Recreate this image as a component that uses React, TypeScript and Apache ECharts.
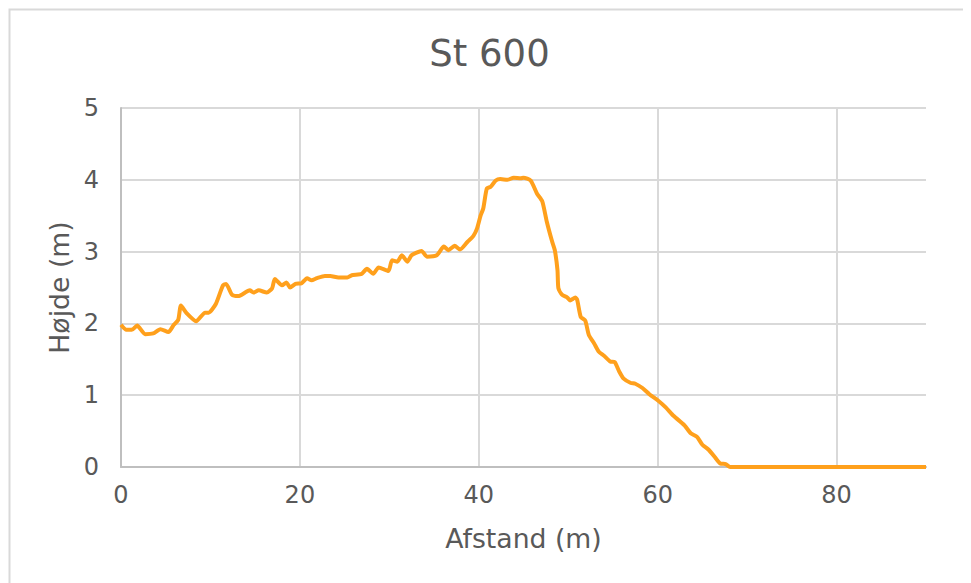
import React, { useEffect, useRef } from "react";
import * as echarts from "echarts";

const titleText = "St 600";
const xAxisName = "Afstand (m)";
const yAxisName = "Højde (m)";

const distances = [
  0, 0.6, 1.2, 1.8, 2.7, 3.6, 4.4, 5.3, 5.9, 6.4, 6.7, 7.35, 8.4, 9.4, 9.8, 10.6,
  11.4, 11.75, 12.4, 13.1, 14.4, 14.8, 15.4, 16.3, 16.9, 17.2, 18.0, 18.5, 18.9,
  19.5, 20.2, 20.8, 21.3, 21.9, 22.8, 23.4, 24.3, 25.3, 25.8, 26.9, 27.5, 28.2,
  28.8, 29.9, 30.3, 30.9, 31.4, 32.0, 32.5, 33.6, 34.2, 35.3, 36.1, 36.6, 37.3,
  37.9, 38.7, 39.4, 39.8, 40.2, 40.5, 40.9, 41.3, 41.9, 42.4, 43.2, 43.9, 44.7,
  45.0, 45.8, 46.5, 47.1, 47.6, 48.2, 48.5, 48.8, 48.9, 49.3, 49.9, 50.2, 50.8,
  51.0, 51.4, 51.9, 52.3, 52.9, 53.4, 54.0, 54.7, 55.2, 55.7, 56.2, 57.0, 57.5,
  58.3, 59.1, 60.1, 60.9, 61.8, 63.0, 63.7, 64.4, 65.0, 65.7, 66.5, 67.0, 67.6,
  68.1, 70, 75, 80, 85, 90,
];

const heights = [
  1.98, 1.91, 1.91, 1.97, 1.85, 1.86, 1.92, 1.88, 1.98, 2.05, 2.25, 2.14, 2.03,
  2.15, 2.15, 2.27, 2.53, 2.55, 2.4, 2.38, 2.46, 2.43, 2.46, 2.43, 2.49, 2.62,
  2.53, 2.57, 2.5, 2.55, 2.56, 2.63, 2.6, 2.63, 2.66, 2.66, 2.64, 2.64, 2.67,
  2.69, 2.76, 2.69, 2.78, 2.73, 2.88, 2.86, 2.95, 2.86, 2.95, 3.01, 2.93, 2.95,
  3.07, 3.02, 3.08, 3.03, 3.13, 3.22, 3.32, 3.5, 3.6, 3.88, 3.9, 3.99, 4.01, 4.0,
  4.03, 4.02, 4.03, 3.99, 3.81, 3.7, 3.42, 3.14, 3.02, 2.74, 2.49, 2.4, 2.36,
  2.32, 2.36, 2.33, 2.09, 2.04, 1.84, 1.72, 1.61, 1.55, 1.47, 1.46, 1.33, 1.23,
  1.17, 1.16, 1.1, 1.01, 0.92, 0.83, 0.71, 0.58, 0.47, 0.42, 0.31, 0.24, 0.12,
  0.05, 0.04, 0, 0, 0, 0, 0, 0,
];

const FONT = "'DejaVu Sans', Verdana, sans-serif";
const TEXT = "#595959";

export default function App() {
  const ref = useRef<HTMLDivElement>(null);
  useEffect(() => {
    if (!ref.current) return;
    const chart = echarts.init(ref.current, undefined, { renderer: "svg" });
    const data = distances.map((d, i) => [d, heights[i]]);
    chart.setOption({
      animation: false,
      backgroundColor: "#ffffff",
      title: {
        text: titleText,
        left: "center",
        top: 22,
        textStyle: { fontFamily: FONT, fontSize: 37, fontWeight: "normal", color: TEXT },
      },
      graphic: [
        {
          type: "rect",
          shape: { x: 1.5, y: 1.5, width: 960, height: 640 },
          style: { fill: "none", stroke: "#d9d9d9", lineWidth: 2 },
          silent: true,
        },
      ],
      grid: { left: 113, right: 45, top: 100, bottom: 116 },
      xAxis: {
        type: "value",
        min: 0,
        max: 90,
        interval: 20,
        name: xAxisName,
        nameLocation: "middle",
        nameGap: 58,
        nameTextStyle: { fontFamily: FONT, fontSize: 26.7, color: TEXT },
        axisLine: { show: true, lineStyle: { color: "#bfbfbf", width: 2 } },
        axisTick: { show: false },
        axisLabel: {
          fontFamily: FONT,
          fontSize: 24,
          color: TEXT,
          margin: 16,
          showMaxLabel: false,
        },
        splitLine: {
          show: true,
          showMaxLine: false,
          lineStyle: { color: "#d9d9d9", width: 2 },
        },
      },
      yAxis: {
        type: "value",
        min: 0,
        max: 5,
        interval: 1,
        name: yAxisName,
        nameLocation: "middle",
        nameGap: 46,
        nameTextStyle: { fontFamily: FONT, fontSize: 26.7, color: TEXT },
        axisLine: { show: true, lineStyle: { color: "#bfbfbf", width: 2 } },
        axisTick: { show: false },
        axisLabel: { fontFamily: FONT, fontSize: 24, color: TEXT, margin: 22 },
        splitLine: { show: true, lineStyle: { color: "#d9d9d9", width: 2 } },
      },
      series: [
        {
          type: "line",
          data,
          showSymbol: false,
          smooth: 0.2,
          lineStyle: { color: "#FFA01C", width: 4 },
          itemStyle: { color: "#FFA01C" },
        },
      ],
    });
    return () => chart.dispose();
  }, []);
  return <div ref={ref} style={{ width: 963, height: 575 }} />;
}
